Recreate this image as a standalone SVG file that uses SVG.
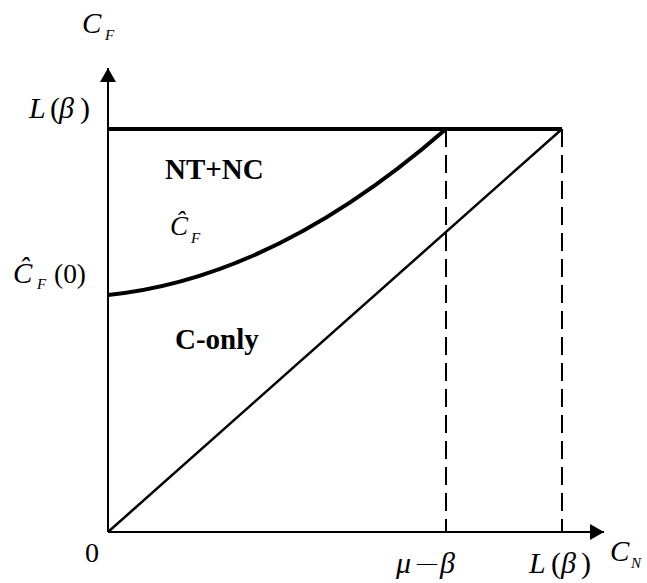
<svg xmlns="http://www.w3.org/2000/svg" width="647" height="583" viewBox="0 0 647 583">
<style>
.t{font-family:"Liberation Serif",serif;fill:#000}
.i{font-style:italic}
.b{font-weight:bold}
.ax{stroke:#000;stroke-width:2;fill:none}
.thick{stroke:#000;stroke-width:4;fill:none}
.thin{stroke:#000;stroke-width:2.5;fill:none}
.dash{stroke:#000;stroke-width:2;stroke-dasharray:18,8;fill:none}
</style>
<defs>
<marker id="arr" viewBox="0 0 14 16" refX="14" refY="8" markerWidth="14" markerHeight="16" markerUnits="userSpaceOnUse" orient="auto">
<path d="M0,0 L14,8 L0,16 Z" fill="#000"/>
</marker>
</defs>
<g id="connectors">
<line class="ax" x1="108" y1="532" x2="108" y2="68" marker-end="url(#arr)"/>
<line class="ax" x1="108" y1="532" x2="604" y2="532" marker-end="url(#arr)"/>
<line class="thick" x1="108" y1="129" x2="562" y2="129"/>
<line class="dash" x1="446" y1="129" x2="446" y2="532"/>
<line class="dash" x1="562" y1="129" x2="562" y2="532"/>
<line class="thin" x1="108" y1="532" x2="562" y2="129"/>
<path class="thick" d="M108,295 Q275,278 446,129"/>
</g>
<g id="labels">
<text class="t i" x="82" y="33" font-size="29">C</text>
<text class="t i" x="105" y="40" font-size="15">F</text>
<text class="t" y="118" font-size="30"><tspan class="i" x="29">L</tspan><tspan x="50">(</tspan><tspan class="i" x="59">β</tspan><tspan x="80">)</tspan></text>
<text class="t i" x="13" y="283" font-size="29">Ĉ</text>
<text class="t i" x="37" y="289" font-size="15">F</text>
<text class="t" x="54" y="283" font-size="28" textLength="32" lengthAdjust="spacingAndGlyphs">(0)</text>
<text class="t b" x="165" y="179" font-size="29">NT+NC</text>
<text class="t i" x="170" y="235" font-size="27">Ĉ</text>
<text class="t i" x="191" y="243" font-size="15">F</text>
<text class="t b" x="175" y="349" font-size="29">C-only</text>
<text class="t" x="85" y="562" font-size="28">0</text>
<text class="t" y="573" font-size="30"><tspan class="i" x="396">μ</tspan><tspan x="417" font-size="20" dy="-3">—</tspan><tspan class="i" x="440" dy="3">β</tspan></text>
<text class="t" y="573" font-size="30"><tspan class="i" x="529">L</tspan><tspan x="551">(</tspan><tspan class="i" x="561">β</tspan><tspan x="581">)</tspan></text>
<text class="t i" x="610" y="561" font-size="29">C</text>
<text class="t i" x="631" y="568" font-size="15">N</text>
</g>
</svg>
